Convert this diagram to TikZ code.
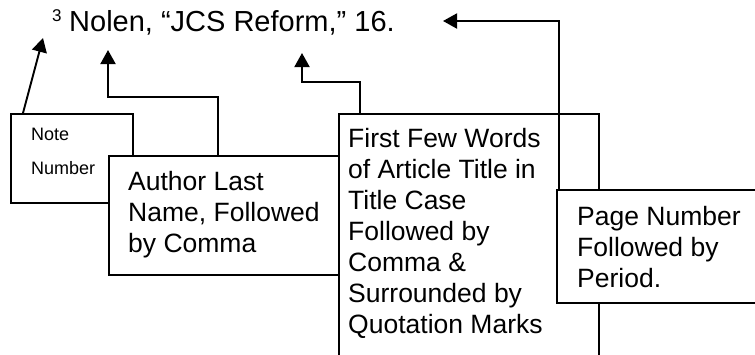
\documentclass[tikz,border=0pt]{standalone}
\usepackage{fontspec}
\setmainfont{Liberation Sans}
\usetikzlibrary{arrows.meta,calc}
\begin{document}
\begin{tikzpicture}[x=1pt,y=-1pt,
  box/.style={draw,line width=1.9pt,fill=white,anchor=north west,inner sep=0pt},
  % multi-line text: the base anchor sits on the last line's baseline
  boxtext/.style={anchor=base west,inner sep=0pt,align=left,
    font=\fontsize{26.5}{31}\selectfont},
  pointer/.style={line width=1.9pt,-{Triangle[length=14pt,width=15pt]}},
]
\useasboundingbox (0,0) rectangle (755,354);
\clip (0,0) rectangle (755,354);

% the citation line
\node[anchor=base west,inner sep=0pt,font=\fontsize{17}{19}\selectfont] (sup) at (52,21) {3};
\node[anchor=base west,inner sep=0pt,font=\fontsize{29}{32}\selectfont] (cite) at (69,31) {Nolen, “JCS Reform,” 16.};

% where each pointer ends
\coordinate (tipnote) at (43,38);
\coordinate (tipauthor) at (108,50);
\coordinate (tiptitle) at (302,53);
\coordinate (tippage) at (443,21);

% overlapping boxes, back to front
\node[box,minimum width=122pt,minimum height=89pt] (note) at (10,113) {};
\node[anchor=base west,inner sep=0pt,align=left,font=\fontsize{18}{34}\selectfont] (notetext) at (31,174) {Note\\Number};

\node[box,minimum width=232pt,minimum height=119pt] (author) at (108,155) {};
\node[boxtext] (authortext) at (128,252) {Author Last\\Name, Followed\\by Comma};

\node[box,minimum width=260pt,minimum height=260pt] (title) at (338,113) {};
\node[boxtext] (titletext) at (348,333) {First Few Words\\of Article Title in\\Title Case\\Followed by\\Comma \&\\Surrounded by\\Quotation Marks};

\node[box,minimum width=220pt,minimum height=113pt] (page) at (556,189) {};
\node[boxtext] (pagetext) at (577,287) {Page Number\\Followed by\\Period.};

% pointers from the boxes to the parts of the citation
\draw[pointer] ($(note.north west)+(13,0)$) -- (tipnote);
\draw[pointer] ($(author.north west)+(110,0)$) -- ++(0,-58) -| (tipauthor);
\draw[pointer] ($(title.north west)+(22,0)$) -- ++(0,-31) -| (tiptitle);
\draw[pointer] ($(page.north west)+(3,0)$) |- (tippage);
\end{tikzpicture}
\end{document}
